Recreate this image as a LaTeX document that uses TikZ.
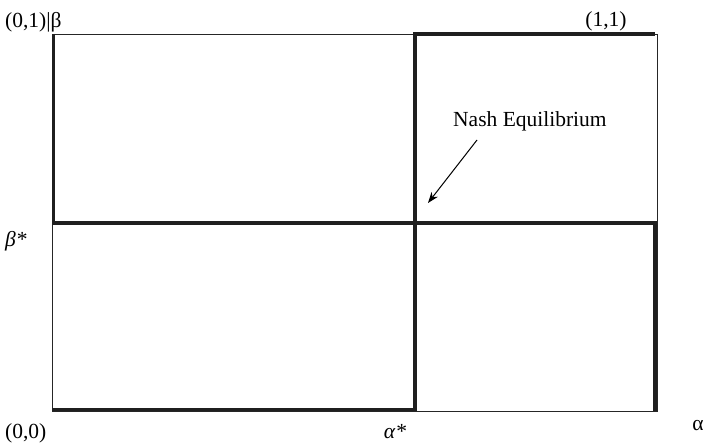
\documentclass[tikz,border=0pt]{standalone}
\usepackage{fontspec}
\setmainfont{Liberation Serif}
\usetikzlibrary{arrows.meta}
\begin{document}
\begin{tikzpicture}[x=1pt,y=-1pt,
  thin line/.style={line width=0.9pt,draw=black!85},
  thick line/.style={line width=3.6pt,draw=black!88},
  lbl/.style={font=\fontsize{21.5}{24}\selectfont,inner sep=0pt},
  pointer/.style={line width=1pt,-{Stealth[length=11pt,width=8pt]}}]
\useasboundingbox (0,0) rectangle (706,443);
% corners
\coordinate (TL) at (52,34);
\coordinate (BR) at (657,411);
\draw[thin line] (TL) rectangle (BR);
% best responses
\coordinate (b1) at (53.5,34);
\coordinate (b2) at (53.5,223);
\coordinate (b3) at (655,223);
\coordinate (b4) at (655,411);
\draw[thick line] (b1) -- (b2) -- (b3) -- (b4);
\coordinate (a1) at (52,409.5);
\coordinate (a2) at (415,409.5);
\coordinate (a3) at (415,34);
\coordinate (a4) at (655,34);
\draw[thick line] (a1) -- (a2) -- (a3) -- (a4);
% labels
\node[lbl,anchor=base west] (l01) at (5,28) {(0,1)|β};
\node[lbl,anchor=base] (l11) at (606,27) {(1,1)};
\node[lbl,anchor=base west] (lb) at (5,247) {\textit{β*}};
\node[lbl,anchor=base west] (l00) at (5,438) {(0,0)};
\node[lbl,anchor=base] (la) at (395,438) {\textit{α*}};
\node[lbl,anchor=base] (lal) at (698,430) {α};
\node[lbl,anchor=base west] (ne) at (453,127) {Nash Equilibrium};
\coordinate (st) at (477,140);
\coordinate (tip) at (428,203);
\draw[pointer] (st) -- (tip);
\end{tikzpicture}
\end{document}
